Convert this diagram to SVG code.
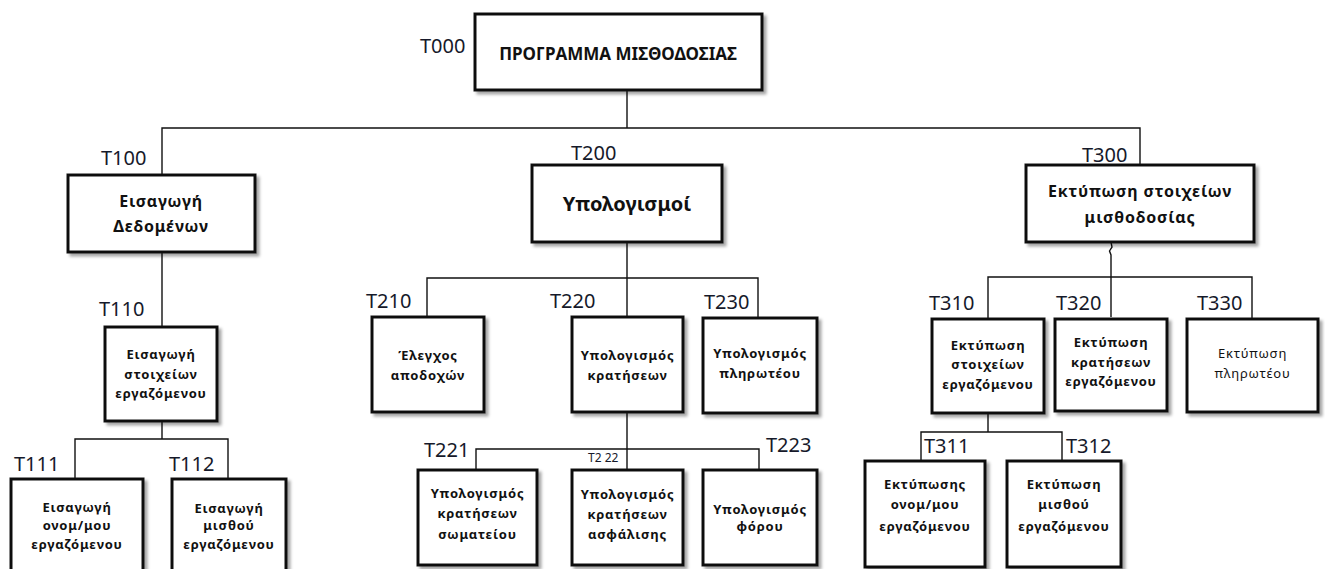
<svg xmlns="http://www.w3.org/2000/svg" width="1325" height="569" viewBox="0 0 1325 569">
  <style>
    .box { fill: #ffffff; stroke: #111111; stroke-width: 3; filter: url(#shadow); }
    .wire { fill: none; stroke: #111111; stroke-width: 1.4; }
    .lbl { font-family: "Noto Sans", "Liberation Sans", sans-serif; font-size: 20px; fill: #16192a; }
    .lbl-s { font-family: "Noto Sans", "Liberation Sans", sans-serif; font-size: 12px; fill: #16192a; }
    .txt { font-family: "Noto Sans", "Liberation Sans", sans-serif; fill: #111111; text-anchor: middle; font-weight: bold; }
    .t-xl { font-size: 17px; }
    .t-lg { font-size: 20px; }
    .t-md { font-size: 16px; letter-spacing: 0.8px; }
    .t-sm { font-size: 13px; letter-spacing: 0.8px; }
    .t-reg { font-weight: normal; }
  </style>
  <defs>
    <filter id="shadow" x="-10%" y="-10%" width="130%" height="130%">
      <feDropShadow dx="3" dy="3" stdDeviation="1.5" flood-color="#000000" flood-opacity="0.35"/>
    </filter>
  </defs>
  <rect width="1325" height="569" fill="#ffffff"/>

  <!-- connectors -->
  <g id="connectors">
    <!-- root to level 1 -->
    <path class="wire" d="M627 90 V128 M162 175 V128 H1140 V165"/>
    <!-- T100 to T110 -->
    <path class="wire" d="M162 252 V327"/>
    <!-- T110 to T111 / T112 -->
    <path class="wire" d="M162 421 V439 M75 479 V439 H228 V479"/>
    <!-- T200 to T210 / T220 / T230 -->
    <path class="wire" d="M627 242 V317 M427 317 V278 H758 V317"/>
    <!-- T220 to T221 / T222 / T223 -->
    <path class="wire" d="M627 412 V470 M476 470 V449 H759 V470"/>
    <!-- T300 to T310 / T320 / T330 -->
    <path class="wire" d="M1111 242 L1112 247 L1109.5 251 L1111 255 V317 M988 319 V277 H1252 V319"/>
    <!-- T310 to T311 / T312 -->
    <path class="wire" d="M988 413 V432 M921 461 V432 H1062 V461"/>
  </g>

  <!-- level 0 -->
  <g id="T000">
    <rect class="box" x="475" y="14" width="287" height="76"/>
    <text class="lbl" x="420" y="53">T000</text>
    <text class="txt t-xl" x="618" y="60">ΠΡΟΓΡΑΜΜΑ ΜΙΣΘΟΔΟΣΙΑΣ</text>
  </g>

  <!-- level 1 -->
  <g id="T100">
    <rect class="box" x="68" y="175" width="187" height="77"/>
    <text class="lbl" x="101" y="165">T100</text>
    <text class="txt t-md" x="161" y="207">Εισαγωγή</text>
    <text class="txt t-md" x="161" y="232">Δεδομένων</text>
  </g>
  <g id="T200">
    <rect class="box" x="532" y="165" width="190" height="77"/>
    <text class="lbl" x="571" y="160">T200</text>
    <text class="txt t-lg" x="627" y="211">Υπολογισμοί</text>
  </g>
  <g id="T300">
    <rect class="box" x="1026" y="165" width="228" height="77"/>
    <text class="lbl" x="1082" y="162">T300</text>
    <text class="txt t-md" x="1140" y="197">Εκτύπωση στοιχείων</text>
    <text class="txt t-md" x="1140" y="223">μισθοδοσίας</text>
  </g>

  <!-- level 2 -->
  <g id="T110">
    <rect class="box" x="105" y="327" width="112" height="94"/>
    <text class="lbl" x="99" y="316">T110</text>
    <text class="txt t-sm" x="161" y="359">Εισαγωγή</text>
    <text class="txt t-sm" x="161" y="379">στοιχείων</text>
    <text class="txt t-sm" x="161" y="398">εργαζόμενου</text>
  </g>
  <g id="T210">
    <rect class="box" x="372" y="317" width="112" height="95"/>
    <text class="lbl" x="366" y="308">T210</text>
    <text class="txt t-sm" x="428" y="360">Έλεγχος</text>
    <text class="txt t-sm" x="428" y="380">αποδοχών</text>
  </g>
  <g id="T220">
    <rect class="box" x="572" y="317" width="111" height="95"/>
    <text class="lbl" x="550" y="308">T220</text>
    <text class="txt t-sm" x="627.5" y="360">Υπολογισμός</text>
    <text class="txt t-sm" x="627.5" y="380">κρατήσεων</text>
  </g>
  <g id="T230">
    <rect class="box" x="703" y="318" width="114" height="95"/>
    <text class="lbl" x="704" y="309">T230</text>
    <text class="txt t-sm" x="760" y="358">Υπολογισμός</text>
    <text class="txt t-sm" x="760" y="378">πληρωτέου</text>
  </g>
  <g id="T310">
    <rect class="box" x="932" y="319" width="112" height="94"/>
    <text class="lbl" x="929" y="310">T310</text>
    <text class="txt t-sm" x="988" y="350">Εκτύπωση</text>
    <text class="txt t-sm" x="988" y="369">στοιχείων</text>
    <text class="txt t-sm" x="988" y="389">εργαζόμενου</text>
  </g>
  <g id="T320">
    <rect class="box" x="1055" y="319" width="112" height="92"/>
    <text class="lbl" x="1056" y="310">T320</text>
    <text class="txt t-sm" x="1111" y="347">Εκτύπωση</text>
    <text class="txt t-sm" x="1111" y="367">κρατήσεων</text>
    <text class="txt t-sm" x="1111" y="386">εργαζόμενου</text>
  </g>
  <g id="T330">
    <rect class="box" x="1187" y="319" width="131" height="93"/>
    <text class="lbl" x="1197" y="310">T330</text>
    <text class="txt t-sm t-reg" x="1252.5" y="358">Εκτύπωση</text>
    <text class="txt t-sm t-reg" x="1252.5" y="378">πληρωτέου</text>
  </g>

  <!-- level 3 -->
  <g id="T111">
    <rect class="box" x="11" y="479" width="132" height="100"/>
    <text class="lbl" x="14" y="471">T111</text>
    <text class="txt t-sm" x="77" y="512">Εισαγωγή</text>
    <text class="txt t-sm" x="77" y="530">ονομ/μου</text>
    <text class="txt t-sm" x="77" y="549">εργαζόμενου</text>
  </g>
  <g id="T112">
    <rect class="box" x="172" y="479" width="114" height="100"/>
    <text class="lbl" x="169" y="471">T112</text>
    <text class="txt t-sm" x="229" y="513">Εισαγωγή</text>
    <text class="txt t-sm" x="229" y="530">μισθού</text>
    <text class="txt t-sm" x="229" y="549">εργαζόμενου</text>
  </g>
  <g id="T221">
    <rect class="box" x="418" y="470" width="119" height="95"/>
    <text class="lbl" x="424" y="457">T221</text>
    <text class="txt t-sm" x="477.5" y="498">Υπολογισμός</text>
    <text class="txt t-sm" x="477.5" y="518">κρατήσεων</text>
    <text class="txt t-sm" x="477.5" y="539">σωματείου</text>
  </g>
  <g id="T222">
    <rect class="box" x="572" y="470" width="111" height="95"/>
    <text class="lbl-s" x="588" y="462">T2 22</text>
    <text class="txt t-sm" x="627.5" y="499">Υπολογισμός</text>
    <text class="txt t-sm" x="627.5" y="519">κρατήσεων</text>
    <text class="txt t-sm" x="627.5" y="539">ασφάλισης</text>
  </g>
  <g id="T223">
    <rect class="box" x="703" y="470" width="114" height="95"/>
    <text class="lbl" x="766" y="452">T223</text>
    <text class="txt t-sm" x="760" y="514">Υπολογισμός</text>
    <text class="txt t-sm" x="760" y="531">φόρου</text>
  </g>
  <g id="T311">
    <rect class="box" x="865" y="461" width="120" height="106"/>
    <text class="lbl" x="924" y="453">T311</text>
    <text class="txt t-sm" x="925" y="489">Εκτύπωσης</text>
    <text class="txt t-sm" x="925" y="509">ονομ/μου</text>
    <text class="txt t-sm" x="925" y="531">εργαζόμενου</text>
  </g>
  <g id="T312">
    <rect class="box" x="1007" y="461" width="114" height="106"/>
    <text class="lbl" x="1066" y="453">T312</text>
    <text class="txt t-sm" x="1064" y="489">Εκτύπωση</text>
    <text class="txt t-sm" x="1064" y="509">μισθού</text>
    <text class="txt t-sm" x="1064" y="531">εργαζόμενου</text>
  </g>
</svg>
